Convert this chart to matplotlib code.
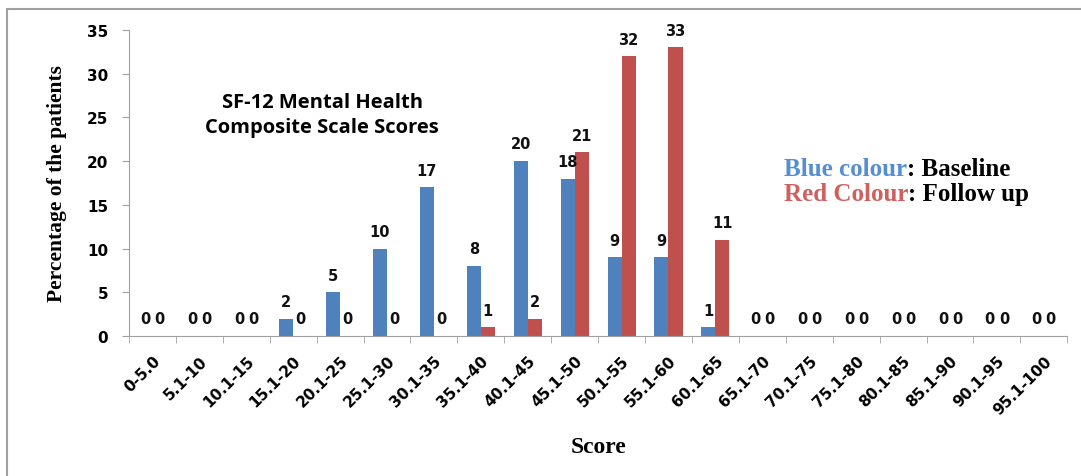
import matplotlib.pyplot as plt
import numpy as np
from matplotlib.patches import Rectangle

categories = ['0-5.0', '5.1-10', '10.1-15', '15.1-20', '20.1-25', '25.1-30', '30.1-35',
              '35.1-40', '40.1-45', '45.1-50', '50.1-55', '55.1-60', '60.1-65', '65.1-70',
              '70.1-75', '75.1-80', '80.1-85', '85.1-90', '90.1-95', '95.1-100']
baseline = [0, 0, 0, 2, 5, 10, 17, 8, 20, 18, 9, 9, 1, 0, 0, 0, 0, 0, 0, 0]
follow_up = [0, 0, 0, 0, 0, 0, 0, 1, 2, 21, 32, 33, 11, 0, 0, 0, 0, 0, 0, 0]

blue = '#4F81BD'
red = '#C0504D'

fig = plt.figure(figsize=(10.81, 4.77), dpi=100)
ax = fig.add_axes([0.1193, 0.2935, 0.868, 0.6415])

x = np.arange(len(categories))
w = 0.3
b1 = ax.bar(x - w / 2, baseline, w, color=blue)
b2 = ax.bar(x + w / 2, follow_up, w, color=red)

for bars, vals in ((b1, baseline), (b2, follow_up)):
    for r, v in zip(bars, vals):
        ax.annotate(str(v), (r.get_x() + r.get_width() / 2, v), xytext=(0, 7),
                    textcoords='offset points', ha='center', va='bottom',
                    fontsize=10.5, fontweight='bold', color='#111111')

ax.set_xlim(-0.5, len(categories) - 0.5)
ax.set_ylim(0, 35)
ax.set_yticks(range(0, 36, 5))
ax.set_xticks(x)
ax.set_xticklabels(categories, rotation=45, ha='right', rotation_mode='anchor',
                   fontsize=11, fontweight='bold')
ax.set_xticks(np.arange(-0.5, len(categories)), minor=True)
ax.tick_params(axis='x', which='major', length=0, pad=12)
ax.tick_params(axis='x', which='minor', length=5, color='#A0A0A0')
ax.tick_params(axis='y', length=5, color='#A0A0A0', labelsize=11, pad=10)
for lab in ax.get_yticklabels():
    lab.set_fontweight('bold')

for s in ('top', 'right'):
    ax.spines[s].set_visible(False)
for s in ('left', 'bottom'):
    ax.spines[s].set_color('#A0A0A0')

ax.set_ylabel('Percentage of the patients', family='Liberation Serif',
              fontweight='bold', fontsize=15.5, labelpad=14)
ax.set_xlabel('Score', family='Liberation Serif', fontweight='bold', fontsize=17,
              labelpad=14)

fig.text(0.298, 0.758, 'SF-12 Mental Health\nComposite Scale Scores', ha='center',
         va='center', fontsize=14.5, fontweight='bold', family='Open Sans',
         linespacing=1.3)

leg_x = 784 / 1081
t1 = fig.text(leg_x, 0.645, 'Blue colour', color='#558ED5', family='Liberation Serif',
              fontweight='bold', fontsize=18, va='center')
ax.annotate(': Baseline', xy=(1, 0.5), xycoords=t1, va='center', color='black',
            family='Liberation Serif', fontweight='bold', fontsize=18)
t2 = fig.text(leg_x, 0.592, 'Red Colour', color='#D0605D', family='Liberation Serif',
              fontweight='bold', fontsize=18, va='center')
ax.annotate(': Follow up', xy=(1, 0.5), xycoords=t2, va='center', color='black',
            family='Liberation Serif', fontweight='bold', fontsize=18)

fig.patches.append(Rectangle((7 / 1081, -0.1), 1.2, 1 - 10 / 477 + 0.1,
                             transform=fig.transFigure, fill=False,
                             edgecolor='#A0A0A0', lw=1.5))

fig.savefig('out.png', dpi=100)
